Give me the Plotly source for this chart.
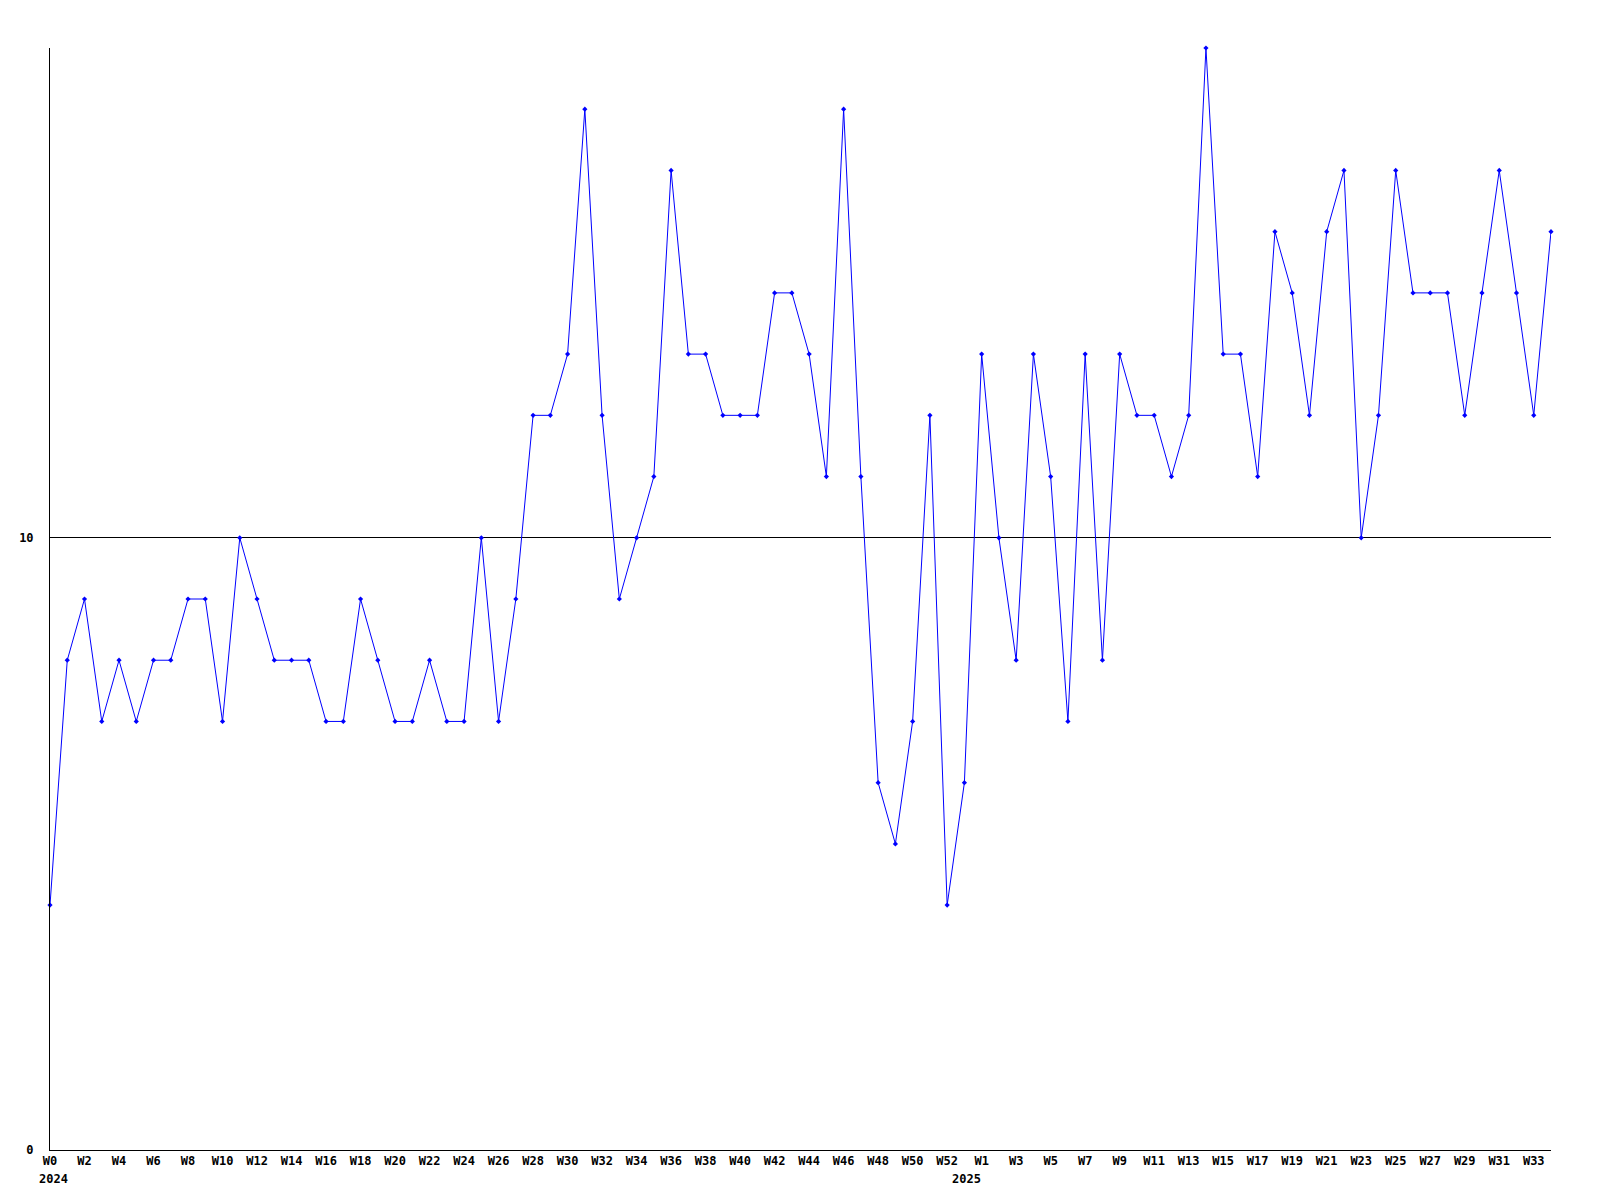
import plotly.graph_objects as go

week_labels = (["W%d" % i for i in range(0, 53)] + ["W%d" % i for i in range(0, 35)])
values = [4, 8, 9, 7, 8, 7, 8, 8, 9, 9,
          7, 10, 9, 8, 8, 8, 7, 7, 9, 8,
          7, 7, 8, 7, 7, 10, 7, 9, 12, 12,
          13, 17, 12, 9, 10, 11, 16, 13, 13, 12,
          12, 12, 14, 14, 13, 11, 17, 11, 6, 5,
          7, 12, 4, 6, 13, 10, 8, 13, 11, 7,
          13, 8, 13, 12, 12, 11, 12, 18, 13, 13,
          11, 15, 14, 12, 15, 16, 10, 12, 16, 14,
          14, 14, 12, 14, 16, 14, 12, 15]
year_labels = ["2024", "2025"]
year_positions = [0, 54]
y_ticks = [0, 10]

x = list(range(len(values)))
tick_idx = list(range(0, 53, 2)) + list(range(54, len(values), 2))

fig = go.Figure()
fig.add_trace(go.Scatter(
    x=x, y=values, mode="lines+markers",
    line=dict(color="#0000ff", width=1),
    marker=dict(symbol="diamond", size=4, color="#0000ff"),
    hoverinfo="skip", cliponaxis=False,
))

font = dict(family="DejaVu Sans Mono", size=12, color="black")
fig.update_layout(
    width=1592, height=1192,
    paper_bgcolor="white", plot_bgcolor="white",
    margin=dict(l=42, r=49, t=40, b=50, pad=0, autoexpand=False),
    showlegend=False,
    font=font,
    xaxis=dict(range=[0, len(values) - 1], tickvals=tick_idx,
               ticktext=["<b>%s</b>" % week_labels[i] for i in tick_idx],
               showgrid=False, zeroline=False, showline=True, automargin=False,
               linecolor="black", linewidth=1, ticks="", tickfont=font),
    yaxis=dict(range=[0, 18], tickvals=y_ticks,
               ticktext=["<b>%d</b>" % v for v in y_ticks],
               showgrid=True, gridcolor="black", gridwidth=1, automargin=False,
               zeroline=False, showline=True, linecolor="black", linewidth=1,
               ticks="", tickfont=font, ticklabelstandoff=13),
)
for lbl, pos in zip(year_labels, year_positions):
    fig.add_annotation(x=pos - 0.85 if pos else 0.2, y=0, xref="x", yref="y",
                       text="<b>%s</b>" % lbl, showarrow=False,
                       xanchor="center", yanchor="top", yshift=-20, font=font)

fig.write_html("out.html")
